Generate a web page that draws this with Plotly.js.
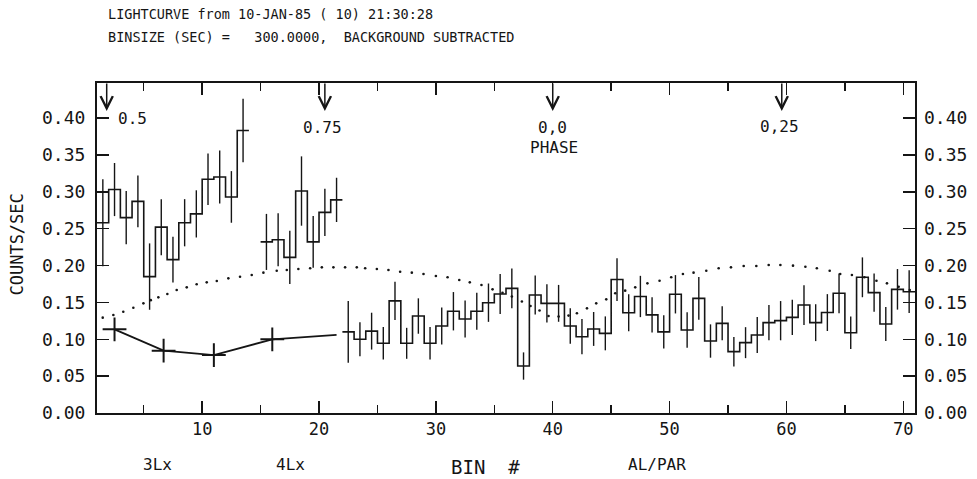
<!DOCTYPE html>
<html>
<head>
<meta charset="utf-8">
<script src="https://cdn.plot.ly/plotly-3.0.1.min.js"></script>
<style>html,body{margin:0;padding:0;background:#fff;}#chart{width:977px;height:479px;}</style>
</head>
<body>
<div id="chart"></div>
<script>
// ---- Data ----
// Segment 1 (3Lx)
const seg1Bins = [1,2,3,4,5,6,7,8,9,10,11,12,13];
const seg1Vals = [0.258,0.303,0.265,0.287,0.185,0.252,0.208,0.258,0.270,0.317,0.320,0.293,0.383];
const seg1Errs = [0.059,0.036,0.036,0.035,0.045,0.038,0.031,0.032,0.032,0.035,0.036,0.035,0.043];
// Segment 2 (4Lx)
const seg2Bins = [15,16,17,18,19,20,21];
const seg2Vals = [0.232,0.235,0.211,0.301,0.232,0.272,0.289];
const seg2Errs = [0.038,0.036,0.036,0.047,0.035,0.032,0.030];
// Segment 3 (AL/PAR)
const seg3Bins = [22,23,24,25,26,27,28,29,30,31,32,33,34,35,36,37,38,39,40,41,42,43,44,45,46,
                  47,48,49,50,51,52,53,54,55,56,57,58,59,60,61,62,63,64,65,66,67,68,69,70];
const seg3Vals = [0.110,0.100,0.111,0.0945,0.152,0.0945,0.1315,0.0945,0.118,0.138,0.1275,0.138,0.1496,
                  0.1614,0.169,0.0637,0.160,0.1487,0.1487,0.118,0.1035,0.114,0.108,0.181,0.136,
                  0.158,0.133,0.110,0.161,0.1125,0.1555,0.0976,0.1216,0.0832,0.0954,0.1058,0.1225,
                  0.1252,0.1297,0.1464,0.1225,0.1362,0.1623,0.1089,0.184,0.1632,0.1207,0.1677,0.1645];
const seg3Errs = [0.042,0.023,0.025,0.022,0.026,0.021,0.024,0.022,0.025,0.026,0.025,0.025,0.026,
                  0.027,0.027,0.0185,0.0265,0.026,0.025,0.024,0.024,0.023,0.023,0.029,0.025,
                  0.028,0.024,0.0225,0.026,0.024,0.029,0.0226,0.023,0.020,0.021,0.0245,0.024,
                  0.0266,0.024,0.027,0.025,0.025,0.027,0.022,0.027,0.026,0.023,0.0275,0.029];
// Averaged points (lower curve with crosses)
const avgX = [2.5,6.7,11.0,16.0];
const avgY = [0.1135,0.0845,0.0786,0.0999];
const avgLineX = [2.5,6.7,11.0,16.0,21.5];
const avgLineY = [0.1135,0.0845,0.0786,0.0999,0.106];
// Dotted model curve
const modelX = [1.49,2.40,3.25,4.11,4.97,5.6,6.25,7.02,7.82,8.68,9.53,10.39,11.25,12.24,13.24,14.24,15.24,16.38,
                17.24,18.23,19.24,20.24,21.23,22.23,23.23,23.95,24.95,25.94,26.94,27.94,28.94,30.0,31.0,
                32.0,32.9,33.9,34.85,35.7,36.5,37.36,38.1,38.87,39.64,40.5,41.35,42.07,42.93,43.72,44.58,
                45.35,46.2,47.06,48.1,49.14,50.14,51.14,52.05,53.14,54.2,55.25,56.34,57.42,58.48,59.48,
                60.56,61.62,62.6,63.7,64.6,65.6,66.67,67.7,68.6,69.6,70.55];
const modelY = [0.1293,0.1329,0.1374,0.1428,0.1487,0.153,0.1568,0.1614,0.1668,0.1704,0.1745,0.1772,0.1790,
                0.1826,0.1848,0.1871,0.1903,0.193,0.1939,0.1953,0.1962,0.1975,0.1975,0.1975,0.1975,0.1962,
                0.1953,0.194,0.1916,0.1903,0.1885,0.1858,0.184,0.1803,0.1772,0.1736,0.1677,0.163,0.158,
                0.1511,0.145,0.139,0.1316,0.1307,0.1321,0.1352,0.1419,0.1487,0.1541,0.1623,0.1659,0.1704,
                0.1758,0.1794,0.184,0.1885,0.1903,0.193,0.1962,0.1975,0.1993,0.1993,0.2007,0.2007,0.1998,
                0.1984,0.1962,0.193,0.1885,0.1871,0.184,0.1794,0.1758,0.1713,0.1668];
// Phase markers
const phaseBins = [1.83,20.5,40.0,59.6];
const phaseLabels = ['0.5','0.75','0,0','0,25'];
// Axis ticks
const yTicks = [0,0.05,0.10,0.15,0.20,0.25,0.30,0.35,0.40];
const xTicks = [10,20,30,40,50,60,70];
// Text
const titleLines = ['LIGHTCURVE from 10-JAN-85 ( 10) 21:30:28',
                    'BINSIZE (SEC) =   300.0000,  BACKGROUND SUBTRACTED'];
const groupLabels = ['3Lx','4Lx','AL/PAR'];
const groupLabelX = [0.074,0.236,0.685];

const FONT = 'DejaVu Sans Mono, monospace';
const BLACK = '#151515';

function stepTrace(bins, vals){
  const xs = bins.concat([bins[bins.length-1]+1]);
  const ys = vals.concat([vals[vals.length-1]]);
  return {x:xs, y:ys, type:'scatter', mode:'lines', line:{shape:'hv', color:BLACK, width:1.6},
          hoverinfo:'skip', showlegend:false};
}
function errTrace(bins, vals, errs){
  return {x:bins.map(b=>b+0.5), y:vals, type:'scatter', mode:'markers',
          marker:{size:1, color:'rgba(0,0,0,0)'},
          error_y:{type:'data', array:errs, visible:true, color:BLACK, thickness:1.4, width:0},
          hoverinfo:'skip', showlegend:false};
}

const traces = [
  stepTrace(seg1Bins, seg1Vals), errTrace(seg1Bins, seg1Vals, seg1Errs),
  stepTrace(seg2Bins, seg2Vals), errTrace(seg2Bins, seg2Vals, seg2Errs),
  stepTrace(seg3Bins, seg3Vals), errTrace(seg3Bins, seg3Vals, seg3Errs),
  {x:modelX, y:modelY, type:'scatter', mode:'markers', marker:{size:2.6, color:BLACK}, showlegend:false, hoverinfo:'skip'},
  {x:avgLineX, y:avgLineY, type:'scatter', mode:'lines', line:{color:BLACK, width:1.8}, showlegend:false, hoverinfo:'skip'},
  {x:avgX, y:avgY, type:'scatter', mode:'markers', marker:{symbol:'cross-thin', size:17, line:{width:2, color:BLACK}}, showlegend:false, hoverinfo:'skip'},
  {x:[1], y:[0], yaxis:'y2', type:'scatter', mode:'markers', marker:{size:1,color:'rgba(0,0,0,0)'}, showlegend:false, hoverinfo:'skip'}
];

const annotations = [];
titleLines.forEach((t,i)=>{
  annotations.push({text:t, xref:'paper', yref:'paper', x:0.011, y:[1.209,1.139][i], xanchor:'left', yanchor:'middle',
    showarrow:false, font:{family:FONT, size:13.5, color:BLACK}});
});
phaseBins.forEach((b)=>{
  annotations.push({x:b, y:0.4095, xref:'x', yref:'y', text:'', showarrow:true, ax:0, ay:-29,
    arrowhead:5, arrowsize:1.6, arrowwidth:1.5, arrowcolor:BLACK});
});
// phase labels
annotations.push({x:phaseBins[0]+0.8, y:0.40, xref:'x', yref:'y', text:phaseLabels[0], xanchor:'left', showarrow:false, font:{family:FONT,size:16,color:BLACK}});
annotations.push({x:phaseBins[1]-0.2, y:0.3865, xref:'x', yref:'y', text:phaseLabels[1], xanchor:'center', showarrow:false, font:{family:FONT,size:16,color:BLACK}});
annotations.push({x:phaseBins[2], y:0.387, xref:'x', yref:'y', text:phaseLabels[2], xanchor:'center', showarrow:false, font:{family:FONT,size:16,color:BLACK}});
annotations.push({x:phaseBins[2]+0.1, y:0.3607, xref:'x', yref:'y', text:'PHASE', xanchor:'center', showarrow:false, font:{family:FONT,size:16,color:BLACK}});
annotations.push({x:phaseBins[3]-0.2, y:0.388, xref:'x', yref:'y', text:phaseLabels[3], xanchor:'center', showarrow:false, font:{family:FONT,size:16,color:BLACK}});
// group labels
groupLabels.forEach((g,i)=>{
  annotations.push({text:g, xref:'paper', yref:'paper', x:groupLabelX[i], y:-0.157, xanchor:'center', yanchor:'middle',
    showarrow:false, font:{family:FONT, size:16, color:BLACK}});
});
annotations.push({text:'BIN  #', xref:'paper', yref:'paper', x:0.475, y:-0.163, xanchor:'center', yanchor:'middle',
  showarrow:false, font:{family:FONT, size:19, color:BLACK}});
annotations.push({text:'COUNTS/SEC', xref:'paper', yref:'paper', x:-0.098, y:0.51, xanchor:'center', yanchor:'middle',
  textangle:-90, showarrow:false, font:{family:FONT, size:17, color:BLACK}});

const yRange = [0, 0.4475];
const layout = {
  width:977, height:479,
  margin:{l:97, r:62, t:83, b:66},
  paper_bgcolor:'#fff', plot_bgcolor:'#fff',
  showlegend:false,
  font:{family:FONT, color:BLACK},
  xaxis:{range:[1,71], tickmode:'array', tickvals:xTicks, ticks:'inside', ticklen:12, tickwidth:1.5, tickcolor:BLACK,
    minor:{tickmode:'array', tickvals:[5,15,25,35,45,55,65], ticks:'inside', ticklen:8, tickwidth:1.5, tickcolor:BLACK},
    mirror:'ticks', showline:true, linewidth:2, linecolor:BLACK, showgrid:false, zeroline:false,
    tickfont:{family:FONT, size:17, color:BLACK}},
  yaxis:{range:yRange, tickmode:'array', tickvals:yTicks, tickformat:'.2f', ticks:'inside', ticklen:12, tickwidth:1.5,
    tickcolor:BLACK, mirror:'ticks', showline:true, linewidth:2, linecolor:BLACK, showgrid:false, zeroline:false,
    tickfont:{family:FONT, size:18, color:BLACK}, ticklabelstandoff:6},
  yaxis2:{range:yRange, overlaying:'y', side:'right', tickmode:'array', tickvals:yTicks, tickformat:'.2f', ticks:'',
    showline:false, showgrid:false, zeroline:false, tickfont:{family:FONT, size:18, color:BLACK}, ticklabelstandoff:8},
  annotations:annotations
};
Plotly.newPlot('chart', traces, layout, {displayModeBar:false, staticPlot:true});
</script>
</body>
</html>
